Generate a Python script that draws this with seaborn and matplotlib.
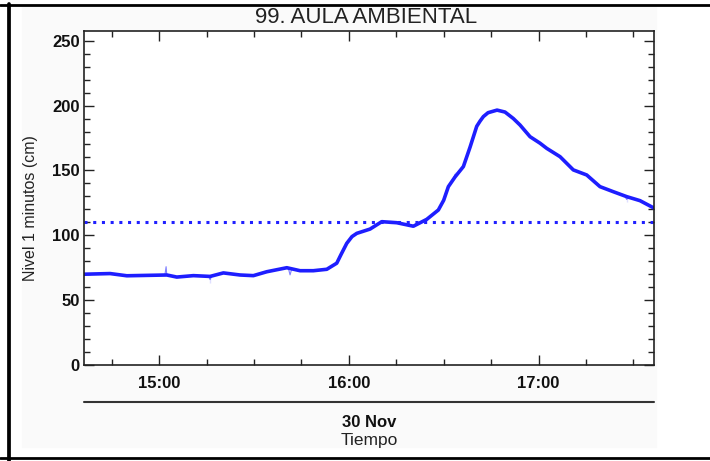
import pandas as pd
import numpy as np
import seaborn as sns
import matplotlib.pyplot as plt
import matplotlib.dates as mdates
from matplotlib.lines import Line2D
from matplotlib.patches import Rectangle

sns.set_theme(style="ticks")
plt.rcParams['font.family'] = ['Liberation Sans', 'DejaVu Sans']

titulo = "99. AULA AMBIENTAL"
ylabel = "Nivel 1 minutos (cm)"
dia = "2009-11-30"
dia_label = "30 Nov"
xlabel = "Tiempo"
umbral = 110

# nivel suavizado (linea gruesa)
hora = ["14:36:20", "14:44:30", "14:49:48", "14:56:06", "15:02:26", "15:05:36",
        "15:10:51", "15:16:08", "15:20:20", "15:25:36", "15:29:49", "15:34:03",
        "15:40:23", "15:44:35", "15:48:47", "15:53:02", "15:56:11", "15:57:30",
        "15:59:21", "16:01:00", "16:02:31", "16:06:43", "16:10:25", "16:15:10",
        "16:20:25", "16:24:39", "16:28:19", "16:30:00", "16:31:29", "16:33:36",
        "16:36:14", "16:38:21", "16:40:27", "16:41:30", "16:42:33", "16:44:02",
        "16:46:53", "16:49:24", "16:52:02", "16:54:09", "16:57:19", "17:00:28",
        "17:02:36", "17:06:48", "17:11:00", "17:15:14", "17:19:26", "17:23:39",
        "17:27:53", "17:32:05", "17:36:40"]
nivel = [70.0, 70.5, 68.8, 69.1, 69.4, 67.8,
         68.9, 68.3, 71.0, 69.4, 68.9, 71.9,
         75.0, 72.7, 72.7, 73.8, 78.5, 85.0,
         93.8, 99.0, 101.5, 104.8, 110.5, 109.7,
         107.0, 112.3, 119.5, 127.0, 137.5, 145.0,
         153.0, 168.0, 184.0, 188.0, 191.5, 194.5,
         196.5, 195.0, 190.0, 185.0, 176.0, 171.0,
         167.0, 160.6, 150.4, 146.5, 137.5, 133.6,
         129.8, 126.7, 120.8]

# picos del dato bruto (linea fina)
pico_hora = ["15:01:50", "15:02:13", "15:02:36",
             "15:15:40", "15:16:08", "15:16:36",
             "15:40:50", "15:41:25", "15:42:00",
             "16:33:00", "16:33:36", "16:34:10",
             "17:27:20", "17:27:53", "17:28:30"]
pico_nivel = [69.3, 75.8, 69.4,
              68.2, 63.4, 68.4,
              75.0, 69.5, 74.5,
              143.0, 149.0, 146.0,
              130.0, 125.5, 129.6]

df = pd.DataFrame({"t": pd.to_datetime([dia + " " + h for h in hora]), "nivel": nivel})
raw = pd.concat([df, pd.DataFrame({"t": pd.to_datetime([dia + " " + h for h in pico_hora]),
                                   "nivel": pico_nivel})]).sort_values("t")

t0 = pd.Timestamp(dia + " 14:36:15")
t1 = pd.Timestamp(dia + " 17:36:40")

fig = plt.figure(figsize=(7.1, 4.61), dpi=100, facecolor="white")
fig.add_artist(Rectangle((22 / 710, 1 - 447 / 461), (655.5 - 22) / 710, (447 - 7) / 461,
                         transform=fig.transFigure, color="#fafafa", zorder=-10))
ax = fig.add_axes([0.1183, 0.2082, 0.8035, 0.7246])
ax.set_facecolor("white")

sns.lineplot(data=raw, x="t", y="nivel", ax=ax, color="#6060ff", lw=0.8, alpha=0.8)
sns.lineplot(data=df, x="t", y="nivel", ax=ax, color="#1e1eff", lw=2.6,
             solid_joinstyle="round", solid_capstyle="round")
ax.axhline(umbral, color="#2020ff", lw=2.2, linestyle=(0, (1, 1.85)))

ax.set_xlim(t0, t1)
ax.set_ylim(0, 257.5)
ax.xaxis.set_major_locator(mdates.HourLocator())
ax.xaxis.set_minor_locator(mdates.MinuteLocator(byminute=[15, 30, 45]))
ax.xaxis.set_major_formatter(mdates.DateFormatter("%H:%M"))
ax.set_yticks(np.arange(0, 251, 50))
ax.set_yticks(np.arange(0, 251, 10), minor=True)

ax.tick_params(which="both", direction="in", top=True, right=True, color="#222222", width=1)
ax.tick_params(which="major", length=7.5)
ax.tick_params(which="minor", length=4)
ax.tick_params(axis="x", which="major", pad=8)
ax.tick_params(axis="y", which="major", pad=3)
for lab in ax.get_xticklabels() + ax.get_yticklabels():
    lab.set_fontsize(12)
    lab.set_fontweight("bold")
    lab.set_color("#111111")
for s in ax.spines.values():
    s.set_linewidth(1.2)
    s.set_color("#222222")

ax.set_xlabel("")
ax.set_ylabel(ylabel, fontsize=11.5, color="#222222")
ax.yaxis.set_label_coords(-0.08, 0.47)

# segundo eje con la fecha
ax.plot([0, 1], [-0.1099, -0.1099], transform=ax.transAxes, clip_on=False, color="#333333", lw=1.5)
ax.text(0.5, -0.1865, dia_label, transform=ax.transAxes, ha="center", va="baseline",
        fontsize=12, fontweight="bold", color="#111111")
ax.text(0.5, -0.2395, xlabel, transform=ax.transAxes, ha="center", va="baseline",
        fontsize=12.5, color="#222222")

fig.text(366 / 710, 1 - 22.7 / 461, titulo, ha="center", va="baseline", fontsize=16, color="#222222")

# bordes de la tabla
fig.add_artist(Line2D([0, 1], [1 - 5.3 / 461] * 2, color="black", lw=2, transform=fig.transFigure))
fig.add_artist(Line2D([8.8 / 710] * 2, [0, 1 - 4 / 461], color="black", lw=2.7, transform=fig.transFigure))
fig.add_artist(Line2D([0, 1], [1 - 457.7 / 461] * 2, color="black", lw=2, transform=fig.transFigure))

fig.savefig("out.png", dpi=100, facecolor="white")
